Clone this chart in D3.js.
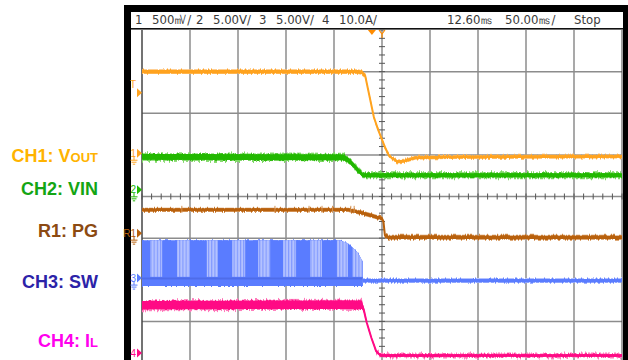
<!DOCTYPE html>
<html>
<head>
<meta charset="utf-8">
<script src="https://cdn.jsdelivr.net/npm/d3@7"></script>
<style>
  html, body { margin: 0; padding: 0; background: #fff; }
  svg { display: block; }
  .hdr { font-family: "Liberation Sans Narrow", "DejaVu Sans Condensed", "Liberation Sans", Arial, sans-serif; font-size: 13px; fill: #3a3a3a; }
  .lbl { font-family: "Liberation Sans", Arial, sans-serif; font-size: 18px; font-weight: bold; }
  .mk { font-family: "Liberation Sans Narrow", "Liberation Sans", Arial, sans-serif; font-size: 10px; }
</style>
</head>
<body>
<div id="chart"></div>
<script>
// values are in scope divisions: time 0..10 (left to right), level -4..4 (bottom to top)

// header readout
const headerText = ["1", "500\u33B7/", "2", "5.00V/", "3", "5.00V/", "4", "10.0A/", "12.60\u33B3", "50.00\u33B3/", "Stop"];
const headerChannel = [1, 0, 2, 0, 3, 0, 4, 0, 0, 0, 0];

// side labels
const labelNames = ["CH1: V", "CH2: VIN", "R1: PG", "CH3: SW", "CH4: I"];
const labelSubs = ["OUT", "", "", "", "L"];

// CH1 Vout
const ch1Time   = [0, 4.5, 4.6, 4.65, 4.83, 4.92, 5.06, 5.15, 5.31, 5.5, 5.69, 6.4, 10];
const ch1Level  = [3.0, 3.0, 2.97, 2.9, 1.91, 1.6, 1.19, 0.97, 0.84, 0.86, 0.93, 0.95, 0.96];
const ch1Spread = [0.04, 0.04, 0.04, 0.03, 0.02, 0.02, 0.02, 0.02, 0.03, 0.03, 0.03, 0.03, 0.03];

// CH2 VIN
const ch2Time   = [0, 4.2, 4.3, 4.45, 4.6, 10];
const ch2Level  = [0.95, 0.94, 0.87, 0.7, 0.51, 0.51];
const ch2Spread = [0.07, 0.07, 0.06, 0.05, 0.05, 0.05];

// R1 PG
const pgTime   = [0, 4.3, 4.4, 4.6, 4.9, 5.0, 5.03, 5.06, 5.12, 10];
const pgLevel  = [-0.32, -0.32, -0.35, -0.4, -0.5, -0.53, -0.6, -0.93, -0.98, -0.98];
const pgSpread = [0.03, 0.03, 0.035, 0.035, 0.035, 0.035, 0.03, 0.03, 0.04, 0.04];
const pgSpikes = [0.83, 2.77, 3.48, 3.75, 3.97, 4.35, 4.42];

// CH3 SW: switching envelope, burst windows, then flat
const swTime   = [0, 4.12, 4.3, 4.5, 4.6];
const swTop    = [-1.05, -1.05, -1.13, -1.36, -1.57];
const swBottom = [-2.15, -2.15, -2.15, -2.15, -2.15];
const swBurstStart = [0.17, 0.73, 1.35, 1.88, 2.42, 2.94, 3.5, 4.06, 4.38];
const swBurstEnd   = [0.42, 1.0, 1.58, 2.15, 2.67, 3.21, 3.75, 4.29, 4.6];
const swTime2   = [4.6, 10];
const swLevel2  = [-2.02, -2.02];
const swSpread2 = [0.04, 0.04];

// CH4 IL
const ch4Time   = [0, 4.58, 4.62, 4.68, 4.78, 4.88, 4.97, 10];
const ch4Level  = [-2.61, -2.6, -2.72, -3.02, -3.4, -3.72, -3.82, -3.82];
const ch4Spread = [0.1, 0.1, 0.04, 0.02, 0.02, 0.02, 0.03, 0.03];

// left-edge markers
const markerText  = ["T", "1", "2", "R1", "3", "4"];
const markerLevel = [2.49, 1.04, 0.16, -0.88, -1.96, -3.76];
const markerGround = [false, true, true, true, true, false];

const colors = {
  ch1: "#ffa31f", ch1f: "#ffc070",
  ch2: "#22b800", ch2f: "#7fd866",
  pg: "#b8600c", pgf: "#d39050",
  sw: "#5a7cff", swl: "#b4c2ff",
  ch4: "#ff0a85", ch4f: "#ff7cbc",
  grid: "#8c8c8c",
};
const labelColors = ["#ffb300", "#14a514", "#8c4a12", "#2c23a8", "#ff00ee"];
const markerColors = [colors.ch1, colors.ch1, colors.ch2, colors.pg, colors.sw, colors.ch4];
const headerColors = ["#3a3a3a", "#ffa31f", "#3cc03c", "#8da0f0", "#ff2aa0"];

const dimensions = {
  width: 628,
  height: 360,
  plotLeft: 142,
  plotRight: 622,
  plotTop: 30,
  plotBottom: 363,
};

const wrapper = d3.select("#chart")
  .append("svg")
    .attr("width", dimensions.width)
    .attr("height", dimensions.height);

const xScale = d3.scaleLinear().domain([0, 10]).range([dimensions.plotLeft, dimensions.plotRight]);
const yScale = d3.scaleLinear().domain([4, -4]).range([dimensions.plotTop, dimensions.plotBottom]);

const defs = wrapper.append("defs");

// scope-like jitter: vertical displacement only (G channel pinned to 0.5)
function addJitter(id, scale, seed) {
  const f = defs.append("filter")
    .attr("id", id)
    .attr("filterUnits", "userSpaceOnUse")
    .attr("x", 0).attr("y", 0)
    .attr("width", dimensions.width).attr("height", dimensions.height)
    .attr("color-interpolation-filters", "sRGB");
  f.append("feTurbulence")
    .attr("type", "fractalNoise")
    .attr("baseFrequency", "0.7 0.015")
    .attr("numOctaves", 1)
    .attr("seed", seed)
    .attr("result", "noise");
  f.append("feColorMatrix")
    .attr("in", "noise")
    .attr("type", "matrix")
    .attr("values", "1 0 0 0 0  0 0 0 0 0.5  0 0 1 0 0  0 0 0 0 1")
    .attr("result", "nmap");
  f.append("feDisplacementMap")
    .attr("in", "SourceGraphic")
    .attr("in2", "nmap")
    .attr("scale", scale)
    .attr("xChannelSelector", "G")
    .attr("yChannelSelector", "R");
}
addJitter("jit", 5, 3);
addJitter("jitBig", 8, 7);

// scope frame
wrapper.append("rect").attr("x", 124).attr("y", 5).attr("width", 504).attr("height", 7).attr("fill", "#000");
wrapper.append("rect").attr("x", 124).attr("y", 5).attr("width", 7).attr("height", 360).attr("fill", "#000");
wrapper.append("rect").attr("x", 623).attr("y", 5).attr("width", 5).attr("height", 360).attr("fill", "#000");
wrapper.append("rect").attr("x", 131).attr("y", 28).attr("width", 492).attr("height", 1.6).attr("fill", "#111");

// header readout
const headerX = [135, 152, 196, 213, 259, 276, 322, 339, 447, 505, 574];
wrapper.append("g")
  .selectAll("text")
  .data(headerText)
  .join("text")
    .attr("class", "hdr")
    .attr("x", (d, i) => headerX[i])
    .attr("y", 24)
    .attr("fill", (d, i) => headerColors[headerChannel[i]])
    .text(d => d);

// grid
const grid = wrapper.append("g");
grid.selectAll(".vx")
  .data(d3.range(1, 10))
  .join("line")
    .attr("x1", d => xScale(d)).attr("x2", d => xScale(d))
    .attr("y1", yScale(4)).attr("y2", yScale(-4))
    .attr("stroke", colors.grid).attr("stroke-width", 1.5);
grid.selectAll(".hy")
  .data(d3.range(-3, 4))
  .join("line")
    .attr("x1", xScale(0)).attr("x2", xScale(10))
    .attr("y1", d => yScale(d)).attr("y2", d => yScale(d))
    .attr("stroke", colors.grid).attr("stroke-width", 1.5);
grid.append("line")
  .attr("x1", xScale(0)).attr("x2", xScale(0))
  .attr("y1", yScale(4)).attr("y2", yScale(-4))
  .attr("stroke", "#444").attr("stroke-width", 1.5);
grid.append("line")
  .attr("x1", xScale(10)).attr("x2", xScale(10))
  .attr("y1", yScale(4)).attr("y2", yScale(-4))
  .attr("stroke", "#444").attr("stroke-width", 1);

// minor ticks on the centre cross
grid.selectAll(".tx")
  .data(d3.range(0, 50.01, 1).map(d => d / 5))
  .join("line")
    .attr("x1", d => xScale(d)).attr("x2", d => xScale(d))
    .attr("y1", yScale(0) - 3).attr("y2", yScale(0) + 3)
    .attr("stroke", "#555").attr("stroke-width", 1);
grid.selectAll(".ty")
  .data(d3.range(-20, 20.01, 1).map(d => d / 5))
  .join("line")
    .attr("x1", xScale(5) - 3).attr("x2", xScale(5) + 3)
    .attr("y1", d => yScale(d)).attr("y2", d => yScale(d))
    .attr("stroke", "#555").attr("stroke-width", 1);

// traces
const traces = wrapper.append("g");

function drawTrace(time, level, spread, color, fringe, width, jitter) {
  const rows = time.map((t, i) => ({ t: t, v: level[i], s: spread[i] }));
  const fringeArea = d3.area()
    .x(d => xScale(d.t))
    .y0(d => yScale(d.v - d.s - 0.02))
    .y1(d => yScale(d.v + d.s + 0.02));
  const bandArea = d3.area()
    .x(d => xScale(d.t))
    .y0(d => yScale(d.v - d.s))
    .y1(d => yScale(d.v + d.s));
  const lineGenerator = d3.line()
    .x(d => xScale(d.t))
    .y(d => yScale(d.v));

  // ragged noise edge, then a solid core
  traces.append("path")
    .attr("d", fringeArea(rows))
    .attr("fill", fringe)
    .attr("filter", `url(#${jitter})`);
  traces.append("path")
    .attr("d", bandArea(rows))
    .attr("fill", color)
    .attr("filter", "url(#jit)")
    .attr("opacity", 0.9);
  traces.append("path").attr("d", bandArea(rows)).attr("fill", color);
  traces.append("path")
    .attr("d", lineGenerator(rows))
    .attr("fill", "none")
    .attr("stroke", color)
    .attr("stroke-width", width)
    .attr("stroke-linejoin", "round");
}

// SW switching band
const hatch = defs.append("pattern")
  .attr("id", "swHatch")
  .attr("patternUnits", "userSpaceOnUse")
  .attr("width", 3.2).attr("height", 10);
hatch.append("rect").attr("width", 3.2).attr("height", 10).attr("fill", colors.swl);
hatch.append("rect").attr("width", 1.1).attr("height", 10).attr("fill", "#7f98ff");

const swRows = swTime.map((t, i) => ({ t: t, top: swTop[i], bottom: swBottom[i] }));
const swArea = d3.area()
  .x(d => xScale(d.t))
  .y0(d => yScale(d.bottom))
  .y1(d => yScale(d.top));
defs.append("clipPath").attr("id", "swClip")
  .append("path").attr("d", swArea(swRows));

const swGroup = traces.append("g");
swGroup.append("path").attr("d", swArea(swRows)).attr("fill", colors.sw).attr("filter", "url(#jit)");
swGroup.append("path").attr("d", swArea(swRows)).attr("fill", colors.sw);
swGroup.append("g")
  .attr("clip-path", "url(#swClip)")
  .selectAll("rect")
  .data(swBurstStart)
  .join("rect")
    .attr("x", d => xScale(d))
    .attr("width", (d, i) => xScale(swBurstEnd[i]) - xScale(d))
    .attr("y", yScale(-1.0))
    .attr("height", yScale(-1.93) - yScale(-1.0))
    .attr("fill", "url(#swHatch)");
swGroup.append("line")
  .attr("x1", xScale(0)).attr("x2", xScale(4.6))
  .attr("y1", yScale(-1.97)).attr("y2", yScale(-1.97))
  .attr("stroke", "#4a66e0").attr("stroke-width", 2).attr("opacity", 0.7);

drawTrace(ch1Time, ch1Level, ch1Spread, colors.ch1, colors.ch1f, 2, "jit");
drawTrace(ch2Time, ch2Level, ch2Spread, colors.ch2, colors.ch2f, 2, "jitBig");
drawTrace(pgTime, pgLevel, pgSpread, colors.pg, colors.pgf, 2, "jit");
drawTrace(swTime2, swLevel2, swSpread2, colors.sw, colors.swl, 2, "jit");
drawTrace(ch4Time, ch4Level, ch4Spread, colors.ch4, colors.ch4f, 2, "jitBig");

// small glitches on PG
traces.selectAll(".spk")
  .data(pgSpikes)
  .join("line")
    .attr("x1", d => xScale(d)).attr("x2", d => xScale(d))
    .attr("y1", yScale(-0.32) - 4).attr("y2", yScale(-0.32) + 3)
    .attr("stroke", colors.pgf).attr("stroke-width", 1);

// trigger position markers at the top
wrapper.append("path")
  .attr("d", `M${xScale(4.79) - 4},${yScale(4)} L${xScale(4.79) + 4},${yScale(4)} L${xScale(4.79)},${yScale(4) + 5} Z`)
  .attr("fill", "#ff8c00");
wrapper.append("path")
  .attr("d", `M${xScale(5) - 3},${yScale(4)} L${xScale(5)},${yScale(4) + 4} L${xScale(5) + 3},${yScale(4)} M${xScale(5)},${yScale(4) + 4} L${xScale(5)},${yScale(4) + 8}`)
  .attr("fill", "none").attr("stroke", "#ff8c00").attr("stroke-width", 1.2);

// left-edge channel markers
const markers = wrapper.append("g")
  .selectAll("g")
  .data(markerText)
  .join("g")
    .attr("transform", (d, i) => `translate(0, ${yScale(markerLevel[i])})`);
markers.append("path")
  .attr("d", "M137,-4.5 L142,0 L137,4.5 Z")
  .attr("fill", (d, i) => markerColors[i]);
markers.append("text")
  .attr("class", "mk")
  .attr("x", 136)
  .attr("y", (d, i) => i === 0 ? -5 : 3.5)
  .attr("text-anchor", "end")
  .attr("fill", (d, i) => markerColors[i])
  .text(d => d);
markers.filter((d, i) => markerGround[i])
  .append("path")
    .attr("d", "M134,3 L134,7 M130.5,7 L137.5,7 M131.5,9 L136.5,9 M132.8,11 L135.2,11")
    .attr("fill", "none")
    .attr("stroke", d => markerColors[markerText.indexOf(d)])
    .attr("stroke-width", 1);

// side labels
const labelY = [162, 195, 237, 288, 347];
const labels = wrapper.append("g")
  .selectAll("text")
  .data(labelNames)
  .join("text")
    .attr("class", "lbl")
    .attr("x", 98)
    .attr("y", (d, i) => labelY[i])
    .attr("text-anchor", "end")
    .attr("fill", (d, i) => labelColors[i]);
labels.append("tspan").text(d => d);
labels.append("tspan")
  .attr("font-size", "13px")
  .text((d, i) => labelSubs[i]);
</script>
</body>
</html>
